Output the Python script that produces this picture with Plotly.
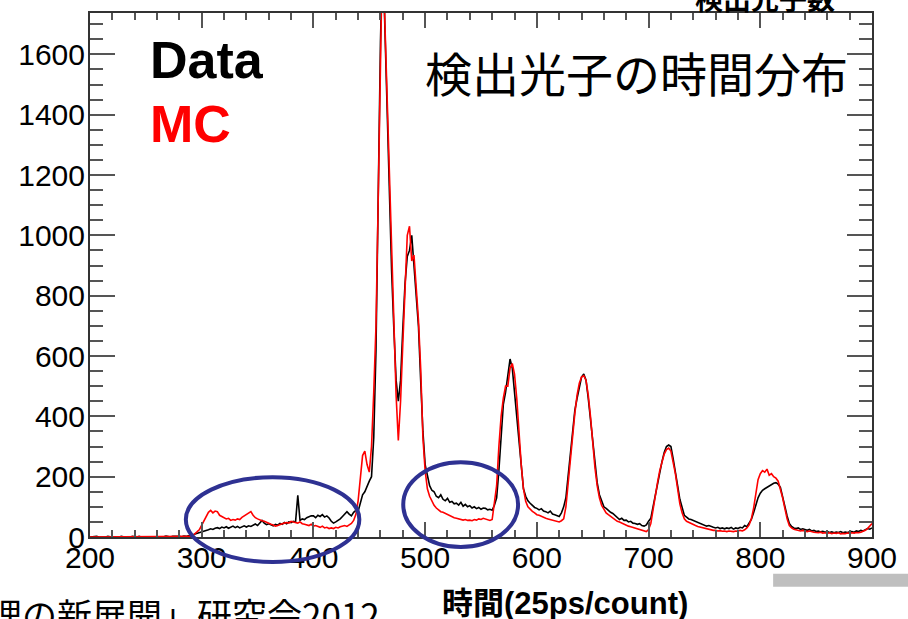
import plotly.graph_objects as go

# Bin positions (25 ps per count), every second bin
time_bins = list(range(200, 902, 2))

# Measured photon counts (Data)
data_counts = [
    0, 1, 0, 2, 0, 1, 0, 0, 2, 1,
    0, 1, 0, 0, 2, 1, 0, 1, 0, 2,
    1, 0, 2, 0, 1, 1, 0, 2, 1, 0,
    1, 2, 0, 1, 3, 1, 0, 2, 1, 2,
    2, 1, 3, 2, 4, 5, 7, 10, 12, 15,
    17, 20, 22, 24, 27, 25, 29, 31, 28, 33,
    30, 34, 29, 33, 36, 31, 35, 30, 34, 37,
    33, 37, 35, 39, 43, 38, 47, 55, 46, 41,
    44, 40, 37, 42, 39, 45, 42, 48, 44, 50,
    48, 52, 50, 138, 55, 60, 58, 64, 67, 70,
    70, 64, 72, 68, 74, 66, 70, 63, 52, 46,
    50, 55, 60, 68, 78, 84, 76, 70, 82, 88,
    85, 110, 140, 150, 170, 185, 200, 330, 620, 1130,
    1640, 1950, 1660, 1400, 1140, 880, 690, 520, 450, 520,
    690, 840, 930, 950, 1000, 890, 800, 700, 520, 350,
    240, 200, 170, 155, 150, 135, 130, 140, 125, 120,
    128, 115, 118, 110, 112, 106, 115, 102, 108, 100,
    104, 96, 100, 94, 98, 92, 96, 95, 90, 92,
    89, 105, 130, 220, 340, 440, 480, 540, 590, 560,
    480, 400, 300, 220, 160, 135, 120, 112, 105, 98,
    95, 90, 94, 86, 84, 80, 86, 76, 74, 70,
    68, 80, 100, 130, 200, 290, 340, 420, 460, 500,
    530, 540, 520, 460, 390, 310, 240, 180, 140, 118,
    100, 95, 88, 82, 78, 72, 64, 58, 62, 55,
    56, 50, 52, 46, 45, 42, 44, 38, 36, 40,
    52, 62, 100, 140, 180, 220, 250, 280, 300, 305,
    300, 260, 220, 170, 125, 95, 72, 66, 60, 58,
    55, 52, 48, 45, 42, 40, 36, 38, 34, 32,
    30, 32, 28, 30, 27, 30, 28, 32, 26, 30,
    28, 32, 30, 38, 34, 45, 58, 80, 110, 130,
    145, 155, 160, 165, 170, 172, 178, 180, 175, 165,
    130, 100, 70, 45, 35, 30, 28, 30, 25, 27,
    24, 22, 25, 20, 22, 18, 20, 17, 19, 16,
    18, 15, 17, 14, 16, 15, 18, 14, 16, 15,
    17, 18, 16, 20, 18, 22, 20, 24, 28, 26,
    30,
]

# Simulated photon counts (MC)
mc_counts = [
    0, 0, 1, 0, 0, 1, 0, 0, 0, 1,
    0, 0, 1, 0, 0, 0, 1, 0, 0, 1,
    0, 1, 0, 0, 1, 0, 0, 1, 0, 0,
    1, 0, 0, 1, 0, 2, 0, 1, 0, 1,
    0, 1, 0, 1, 2, 2, 5, 10, 18, 25,
    40, 55, 70, 82, 88, 80, 86, 84, 72, 68,
    64, 60, 62, 55, 58, 56, 60, 58, 65, 70,
    74, 80, 84, 72, 64, 60, 56, 54, 52, 48,
    46, 42, 40, 36, 38, 42, 44, 46, 48, 46,
    52, 50, 48, 46, 50, 44, 42, 40, 38, 42,
    36, 38, 34, 32, 36, 30, 32, 28, 30, 28,
    32, 30, 34, 36, 38, 35, 40, 45, 55, 75,
    120, 200, 270, 285, 240, 215, 300, 480, 700, 1120,
    1690, 2000, 1700, 1450, 1170, 950, 700, 470, 320, 450,
    640, 820, 1000, 1030, 915, 935, 830, 720, 560, 330,
    220, 160, 135, 120, 105, 96, 90, 84, 82, 78,
    74, 70, 66, 64, 62, 60, 58, 56, 58, 55,
    56, 54, 58, 56, 60, 58, 62, 60, 56, 55,
    58, 110, 170, 300, 400, 460, 500, 500, 560, 575,
    540, 460, 340, 240, 160, 118, 100, 92, 85, 80,
    74, 72, 68, 64, 62, 60, 58, 56, 54, 52,
    50, 54, 60, 100, 180, 270, 350, 410, 470, 510,
    530, 535, 520, 470, 400, 310, 230, 170, 130, 105,
    92, 80, 74, 68, 62, 58, 52, 50, 46, 44,
    40, 36, 34, 32, 30, 28, 26, 24, 20, 18,
    25, 45, 90, 140, 180, 220, 250, 275, 290, 295,
    285, 250, 210, 160, 110, 80, 60, 52, 48, 44,
    40, 38, 35, 33, 30, 28, 26, 25, 24, 22,
    22, 20, 21, 19, 20, 18, 20, 19, 18, 20,
    19, 22, 20, 24, 30, 40, 60, 95, 150, 190,
    210, 220, 215, 225, 205, 210, 200, 195, 185, 160,
    130, 95, 60, 38, 30, 26, 24, 22, 20, 22,
    19, 18, 20, 17, 16, 15, 14, 16, 13, 14,
    12, 14, 11, 13, 12, 14, 10, 12, 11, 13,
    12, 14, 13, 15, 14, 16, 18, 22, 28, 35,
    45,
]

X_RANGE = [200, 900]
Y_RANGE = [0, 1737]

# Figure geometry (pixels)
W, H = 908, 619
ML, MR, MT, MB = 90, 35, 11, 82
PW, PH = W - ML - MR, H - MT - MB


def px(xp):
    """Horizontal pixel -> paper fraction."""
    return (xp - ML) / PW


def py(yp):
    """Vertical pixel (from top) -> paper fraction."""
    return (H - MB - yp) / PH


LATIN = "Liberation Sans, Arial, sans-serif"
CJK = "Liberation Sans, Noto Sans CJK JP, sans-serif"
ELLIPSE_BLUE = "#2e3192"

fig = go.Figure()
fig.add_trace(go.Scatter(x=time_bins, y=data_counts, mode="lines",
                         line=dict(color="#000000", width=1.6),
                         name="Data", showlegend=False))
fig.add_trace(go.Scatter(x=time_bins, y=mc_counts, mode="lines",
                         line=dict(color="#ff0000", width=1.6),
                         name="MC", showlegend=False))

axis_common = dict(
    showgrid=False, zeroline=False, showline=True, linecolor="#333333",
    linewidth=2, mirror="ticks", ticks="inside", tickcolor="#555555",
    tickwidth=1.5, tickfont=dict(family=LATIN, size=30, color="#000000"),
)

fig.update_xaxes(range=X_RANGE, tickmode="linear", tick0=200, dtick=100,
                 ticklen=15, ticklabelstandoff=-7,
                 minor=dict(dtick=20, ticklen=7, ticks="inside",
                            tickcolor="#555555", tickwidth=1.5),
                 **axis_common)
fig.update_yaxes(range=Y_RANGE, tickmode="linear", tick0=0, dtick=200,
                 ticklen=25, ticklabelstandoff=-3,
                 minor=dict(dtick=50, ticklen=13, ticks="inside",
                            tickcolor="#555555", tickwidth=1.5),
                 **axis_common)

annotations = [
    dict(text="Data", x=px(148), y=py(58), xanchor="left", yanchor="middle",
         font=dict(family=LATIN, size=52, color="#000000", weight="bold")),
    dict(text="MC", x=px(148), y=py(122), xanchor="left", yanchor="middle",
         font=dict(family=LATIN, size=52, color="#ff0000", weight="bold")),
    dict(text="検出光子の時間分布", x=px(637), y=py(70), xanchor="center",
         yanchor="middle",
         font=dict(family="Noto Sans CJK JP", size=47, color="#000000")),
    dict(text="検出光子数", x=px(766), y=py(-4), xanchor="center",
         yanchor="middle",
         font=dict(family="Noto Sans CJK JP", size=28, color="#000000",
                   weight="bold")),
    dict(text="物理の新展開」研究会2012", x=px(382), y=py(614),
         xanchor="right", yanchor="middle",
         font=dict(family="Noto Sans CJK JP", size=35, color="#000000")),
    dict(text="時間(25ps/count)", x=px(566), y=py(604), xanchor="center",
         yanchor="middle",
         font=dict(family=CJK, size=31, color="#000000", weight="bold")),
]
for a in annotations:
    a.update(xref="paper", yref="paper", showarrow=False)


def xfrac(v):
    """Data-axis time value -> paper fraction."""
    return (v - X_RANGE[0]) / (X_RANGE[1] - X_RANGE[0])


shapes = [
    # highlighted regions
    dict(type="circle", xref="paper", yref="paper",
         x0=xfrac(285.8), x1=xfrac(441.1), y0=py(562), y1=py(477),
         line=dict(color=ELLIPSE_BLUE, width=4)),
    dict(type="circle", xref="paper", yref="paper",
         x0=xfrac(480.4), x1=xfrac(583.2), y0=py(547), y1=py(462),
         line=dict(color=ELLIPSE_BLUE, width=4)),
    # grey footer bar
    dict(type="rect", xref="paper", yref="paper", x0=px(774), x1=px(930),
         y0=py(587), y1=py(574), fillcolor="#bfbfbf",
         line=dict(width=0)),
]

fig.update_layout(
    width=W, height=H,
    margin=dict(l=ML, r=MR, t=MT, b=MB, pad=0),
    paper_bgcolor="#ffffff", plot_bgcolor="#ffffff",
    annotations=annotations, shapes=shapes,
)

fig.write_html("out.html")
